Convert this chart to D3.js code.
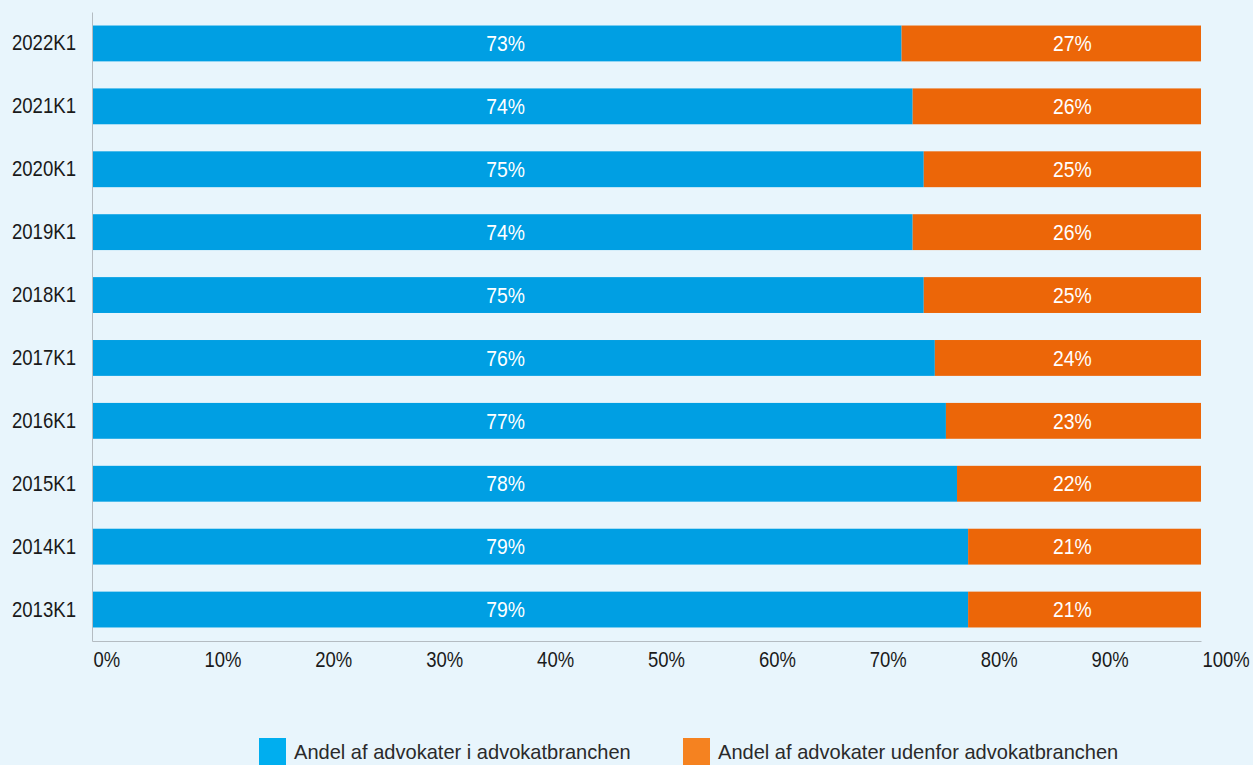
<!DOCTYPE html>
<html>
<head>
<meta charset="utf-8">
<script src="https://cdn.jsdelivr.net/npm/d3@7"></script>
<style>
  body { margin: 0; background: #e8f5fc; }
  svg text { font-family: "Liberation Sans Narrow", "Arial Narrow", "Liberation Sans", sans-serif; }
</style>
</head>
<body>
<div id="chart"></div>
<script>
// quarters, top to bottom
const categories = ['2022K1', '2021K1', '2020K1', '2019K1', '2018K1', '2017K1', '2016K1', '2015K1', '2014K1', '2013K1'];
// share inside / outside the lawyer branch
const inside = [0.73, 0.74, 0.75, 0.74, 0.75, 0.76, 0.77, 0.78, 0.79, 0.79];
const outside = [0.27, 0.26, 0.25, 0.26, 0.25, 0.24, 0.23, 0.22, 0.21, 0.21];
const ticks = [0, 0.1, 0.2, 0.3, 0.4, 0.5, 0.6, 0.7, 0.8, 0.9, 1];
const seriesNames = ['Andel af advokater i advokatbranchen', 'Andel af advokater udenfor advokatbranchen'];

const W = 1253, H = 765;
const margin = { top: 12, right: 52, bottom: 124, left: 92 };
const width = W - margin.left - margin.right;
const height = H - margin.top - margin.bottom;

const barColors = ['#009fe3', '#ec6608'];
const legendColors = ['#00aeef', '#f58220'];

const svg = d3.select('#chart').append('svg')
  .attr('width', W)
  .attr('height', H);

svg.append('rect').attr('width', W).attr('height', H).attr('fill', '#e8f5fc');

const g = svg.append('g')
  .attr('transform', 'translate(' + margin.left + ',' + margin.top + ')');

const x = d3.scaleLinear().domain([0, 1]).range([0, width]);
const y = d3.scaleBand().domain(categories).range([0, height])
  .paddingInner(0.43).paddingOuter(0.215);

const rows = categories.map((c, i) => ({ cat: c, a: inside[i], b: outside[i] }));

// no narrow font installed: squeeze glyphs to the condensed look of the source
function squeeze(sel, k) {
  sel.each(function () {
    const len = this.getComputedTextLength();
    d3.select(this)
      .attr('textLength', len * k)
      .attr('lengthAdjust', 'spacingAndGlyphs');
  });
}

// blue segment
g.selectAll('rect.a')
  .data(rows)
  .enter().append('rect')
  .attr('class', 'a')
  .attr('x', x(0))
  .attr('y', d => y(d.cat))
  .attr('width', d => x(d.a) - x(0))
  .attr('height', y.bandwidth())
  .attr('fill', barColors[0]);

// orange segment
g.selectAll('rect.b')
  .data(rows)
  .enter().append('rect')
  .attr('class', 'b')
  .attr('x', d => x(d.a))
  .attr('y', d => y(d.cat))
  .attr('width', d => x(d.a + d.b) - x(d.a))
  .attr('height', y.bandwidth())
  .attr('fill', barColors[1]);

// value labels (the source keeps them in fixed columns)
g.selectAll('text.la')
  .data(rows)
  .enter().append('text')
  .attr('class', 'la')
  .attr('x', x(0.373))
  .attr('y', d => y(d.cat) + y.bandwidth() / 2)
  .attr('dy', '0.35em')
  .attr('text-anchor', 'middle')
  .attr('fill', '#fff')
  .style('font-size', '22px')
  .text(d => Math.round(d.a * 100) + '%');

g.selectAll('text.lb')
  .data(rows)
  .enter().append('text')
  .attr('class', 'lb')
  .attr('x', x(0.884))
  .attr('y', d => y(d.cat) + y.bandwidth() / 2)
  .attr('dy', '0.35em')
  .attr('text-anchor', 'middle')
  .attr('fill', '#fff')
  .style('font-size', '22px')
  .text(d => Math.round(d.b * 100) + '%');

squeeze(g.selectAll('text.la, text.lb'), 0.88);

// axes
const xAxis = g.append('g')
  .attr('transform', 'translate(0,' + height + ')')
  .call(d3.axisBottom(x).tickValues(ticks).tickFormat(d3.format('.0%')).tickSize(0).tickPadding(10));
xAxis.select('.domain').attr('stroke', '#b4bcc2');
xAxis.selectAll('text')
  .attr('text-anchor', 'start')
  .attr('dx', '1')
  .attr('fill', '#1a1a1a')
  .style('font-size', '22px');
squeeze(xAxis.selectAll('text'), 0.84);

const yAxis = g.append('g')
  .call(d3.axisLeft(y).tickSize(0).tickPadding(16));
yAxis.select('.domain').attr('stroke', '#b4bcc2');
yAxis.selectAll('text')
  .attr('fill', '#1a1a1a')
  .style('font-size', '22px');
squeeze(yAxis.selectAll('text'), 0.845);

// legend
const legend = svg.append('g');
const legendX = [259, 683];
seriesNames.forEach((name, i) => {
  const item = legend.append('g').attr('transform', 'translate(' + legendX[i] + ',738)');
  item.append('rect').attr('width', 27).attr('height', 27).attr('fill', legendColors[i]);
  item.append('text')
    .attr('x', 35)
    .attr('y', 21)
    .attr('fill', '#2a2a2a')
    .style('font-size', '21px')
    .text(name);
});
squeeze(legend.selectAll('text'), 0.955);
</script>
</body>
</html>
